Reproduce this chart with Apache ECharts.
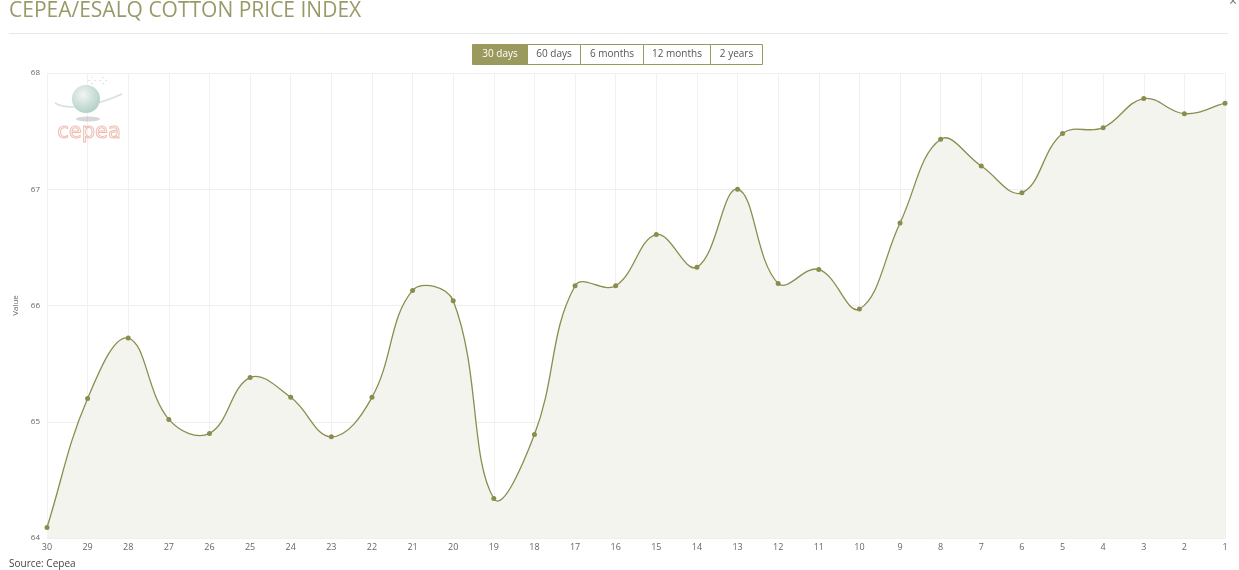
<!DOCTYPE html>
<html>
<head>
<meta charset="utf-8">
<script src="https://cdn.jsdelivr.net/npm/echarts@6/dist/echarts.min.js"></script>
<style>
html,body{margin:0;padding:0;background:#fff;}
#c{width:1239px;height:570px;}
</style>
</head>
<body>
<div id="c"></div>
<script>
const categories = ['30','29','28','27','26','25','24','23','22','21','20','19','18','17','16','15','14','13','12','11','10','9','8','7','6','5','4','3','2','1'];
const values = [64.09, 65.20, 65.72, 65.02, 64.90, 65.38, 65.21, 64.87, 65.21, 66.13, 66.04, 64.34, 64.89, 66.17, 66.17, 66.61, 66.33, 67.00, 66.19, 66.31, 65.97, 66.71, 67.43, 67.20, 66.97, 67.48, 67.53, 67.78, 67.65, 67.74];
const rangeButtons = ['30 days','60 days','6 months','12 months','2 years'];
const titleText = 'CEPEA/ESALQ COTTON PRICE INDEX';
const sourceText = 'Source: Cepea';

const olive = '#8b8d4e';
const btnW = [55, 53, 63, 67, 52];
const btnEls = [];
let bx = 472;
rangeButtons.forEach((t, i) => {
  const active = i === 0;
  btnEls.push({
    type: 'rect', x: bx + 0.5, y: 44.5,
    shape: {width: btnW[i], height: 20},
    style: {fill: active ? '#9b9a5e' : '#fff', stroke: '#9b9a5e', lineWidth: 1}
  });
  btnEls.push({
    type: 'text', x: bx + btnW[i] / 2 + 0.5, y: 54, z: 10,
    style: {text: t, fill: active ? '#fff' : '#555', font: '10px "Open Sans", sans-serif', align: 'center', verticalAlign: 'middle'}
  });
  bx += btnW[i];
});

// Cubic spline (tension-based control points) built from coordinates given by the axes
function renderSpline(params, api) {
  const pts = values.map((v, i) => api.coord([i, v]));
  const n = pts.length;
  const t = 0.4;
  const lc = [], rc = [];
  for (let i = 0; i < n; i++) {
    const cur = pts[i];
    const prev = i > 0 ? pts[i - 1] : cur;
    const next = i < n - 1 ? pts[i + 1] : cur;
    const d01 = Math.hypot(cur[0] - prev[0], cur[1] - prev[1]);
    const d12 = Math.hypot(next[0] - cur[0], next[1] - cur[1]);
    let s01 = d01 / (d01 + d12), s12 = d12 / (d01 + d12);
    if (!isFinite(s01)) s01 = 0;
    if (!isFinite(s12)) s12 = 0;
    const fa = t * s01, fb = t * s12;
    lc[i] = [cur[0] - fa * (next[0] - prev[0]), cur[1] - fa * (next[1] - prev[1])];
    rc[i] = [cur[0] + fb * (next[0] - prev[0]), cur[1] + fb * (next[1] - prev[1])];
  }
  let d = 'M' + pts[0][0] + ' ' + pts[0][1];
  for (let i = 1; i < n; i++) {
    d += ' C' + rc[i - 1][0] + ' ' + rc[i - 1][1] + ' ' + lc[i][0] + ' ' + lc[i][1] + ' ' + pts[i][0] + ' ' + pts[i][1];
  }
  const base = api.coord([0, 64])[1];
  const area = d + ' L' + pts[n - 1][0] + ' ' + base + ' L' + pts[0][0] + ' ' + base + ' Z';
  return {
    type: 'group',
    children: [
      {type: 'path', shape: {pathData: area}, style: {fill: '#f4f4ee', stroke: null}},
      {type: 'path', shape: {pathData: d}, style: {fill: null, stroke: olive, lineWidth: 1.3}}
    ]
  };
}

const chart = echarts.init(document.getElementById('c'));
chart.setOption({
  animation: false,
  title: {
    text: titleText, left: 4, top: -4,
    textStyle: {color: '#9a9a68', fontSize: 21, fontWeight: 'normal', fontFamily: '"Open Sans", sans-serif'}
  },
  grid: {left: 47, right: 14, top: 73, bottom: 32, containLabel: false},
  xAxis: {
    type: 'category', data: categories, boundaryGap: false,
    axisLine: {show: false}, axisTick: {show: false},
    axisLabel: {color: '#666', fontSize: 9, fontFamily: '"Open Sans", sans-serif', margin: 5, interval: 0},
    splitLine: {show: true, lineStyle: {color: '#f1f1f1', width: 1}}
  },
  yAxis: {
    type: 'value', min: 64, max: 68, interval: 1,
    name: 'Value', nameLocation: 'middle', nameGap: 15, nameRotate: 90,
    nameTextStyle: {color: '#666', fontSize: 8, fontFamily: '"Open Sans", sans-serif'},
    axisLine: {show: false}, axisTick: {show: false},
    axisLabel: {color: '#666', fontSize: 8, fontFamily: '"Open Sans", sans-serif', margin: 7},
    splitLine: {show: true, lineStyle: {color: '#efefef', width: 1}}
  },
  graphic: [
    {type: 'line', shape: {x1: 9, y1: 33.5, x2: 1228, y2: 33.5}, style: {stroke: '#e8e8e8', lineWidth: 1}},
    {type: 'text', x: 1229, y: -5, style: {text: '×', fill: '#777', font: '14px "Open Sans", sans-serif'}},
    {type: 'text', x: 9, y: 559, style: {text: sourceText, fill: '#444', font: '10px "Open Sans", sans-serif'}},
    ...btnEls,
    {type: 'ellipse', shape: {cx: 88, cy: 119, rx: 12, ry: 2.5}, style: {fill: 'rgba(140,140,140,0.35)'}, z: 1},
    {type: 'bezierCurve', shape: {x1: 122, y1: 94, cpx1: 100, cpy1: 104, cpx2: 70, cpy2: 112, x2: 55, y2: 103},
      style: {stroke: '#d5e2dc', lineWidth: 1.5, fill: null}, z: 1},
    {type: 'circle', shape: {cx: 86, cy: 99, r: 14},
      style: {fill: new echarts.graphic.RadialGradient(0.4, 0.35, 0.8, [{offset: 0, color: '#f0f6f3'}, {offset: 1, color: '#a8c8bc'}])}, z: 2},
    {type: 'text', x: 88, y: 76, style: {text: '⁘ ⁘', fill: '#c5d4cd', font: '10px sans-serif'}, z: 1},
    {type: 'text', x: 89, y: 133, style: {text: 'cepea', fill: 'none', stroke: '#eebdb1', lineWidth: 1, font: '21px "DejaVu Sans", sans-serif', align: 'center', verticalAlign: 'middle'}, z: 1}
  ],
  series: [
    {
      type: 'custom', coordinateSystem: 'cartesian2d',
      data: [[0, values[0]]], renderItem: renderSpline, z: 2, silent: true
    },
    {
      type: 'line', data: values,
      symbol: 'circle', symbolSize: 5,
      itemStyle: {color: olive},
      lineStyle: {width: 0, opacity: 0},
      z: 3
    }
  ]
});
</script>
</body>
</html>
